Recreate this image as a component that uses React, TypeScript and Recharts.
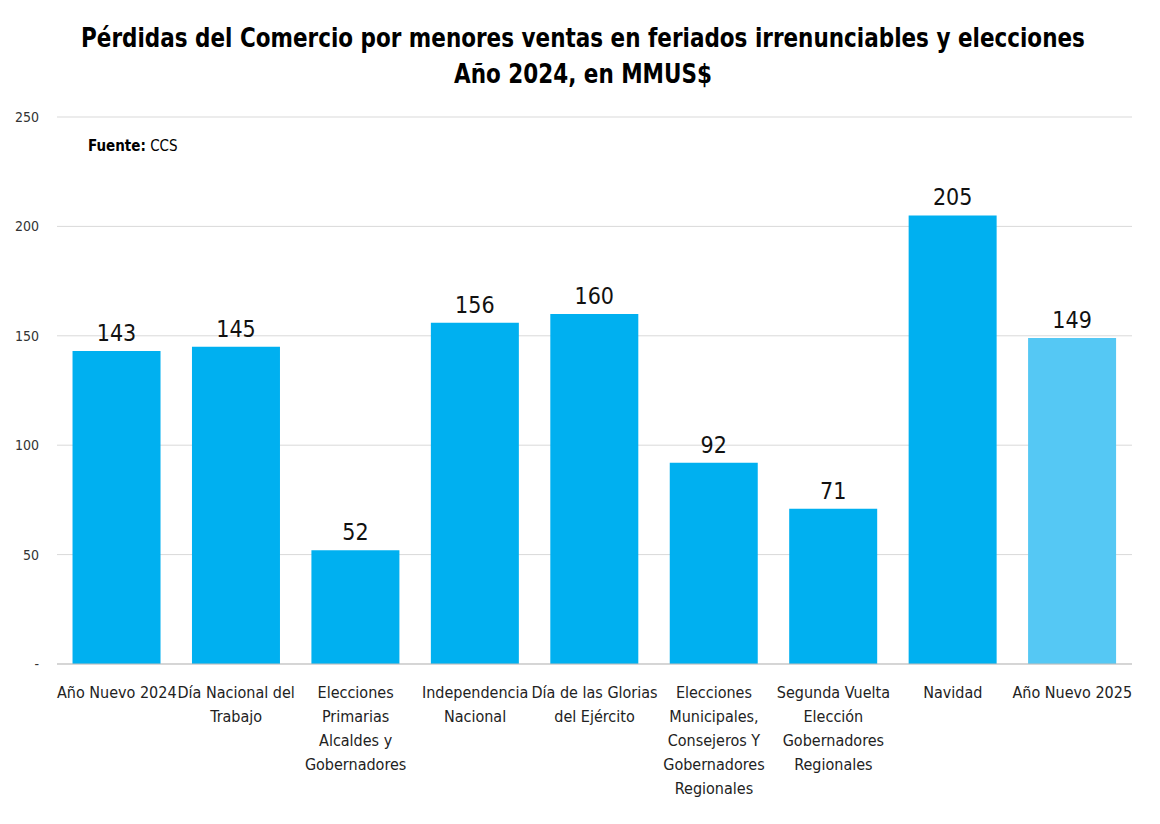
import React from "react";
import { BarChart, Bar, XAxis, YAxis, CartesianGrid, LabelList, Cell } from "recharts";

const categories = [
  "Año Nuevo 2024",
  "Día Nacional del\nTrabajo",
  "Elecciones\nPrimarias\nAlcaldes y\nGobernadores",
  "Independencia\nNacional",
  "Día de las Glorias\ndel Ejército",
  "Elecciones\nMunicipales,\nConsejeros Y\nGobernadores\nRegionales",
  "Segunda Vuelta\nElección\nGobernadores\nRegionales",
  "Navidad",
  "Año Nuevo 2025",
];
const values = [143, 145, 52, 156, 160, 92, 71, 205, 149];
const yTicks = [0, 50, 100, 150, 200, 250];

const data = categories.map((c, i) => ({ name: c, value: values[i] }));
const FONT = "'Liberation Sans Narrow', 'DejaVu Sans Condensed', 'Roboto', sans-serif";

const Tick = (props: any) => {
  const { x, y, payload } = props;
  const lines = String(payload.value).split("\n");
  return (
    <g transform={`translate(${x},${y})`}>
      {lines.map((l, i) => (
        <text key={i} x={0} y={26 + i * 24} textAnchor="middle" fontSize={16} fill="#222" fontFamily={FONT}>
          {l}
        </text>
      ))}
    </g>
  );
};

export default function App() {
  return (
    <div style={{ position: "absolute", left: 0, top: 0, width: 1160, height: 824, background: "#fff", fontFamily: FONT }}>
      <div style={{ position: "absolute", top: 20, left: 0, width: 1166, textAlign: "center", fontWeight: "bold", fontSize: 26, lineHeight: "36px", color: "#000", whiteSpace: "nowrap", transform: "scaleX(0.92)" }}>
        Pérdidas del Comercio por menores ventas en feriados irrenunciables y elecciones
        <br />
        Año 2024, en MMUS$
      </div>
      <div style={{ position: "absolute", top: 137, left: 88, fontSize: 15, color: "#000" }}>
        <b>Fuente:</b> CCS
      </div>
      <BarChart width={1160} height={824} data={data} margin={{ top: 117, right: 28, bottom: 130, left: 0 }} barCategoryGap="13%">
        <CartesianGrid vertical={false} stroke="#d9d9d9" />
        <XAxis dataKey="name" interval={0} tick={<Tick />} tickLine={false} axisLine={{ stroke: "#bfbfbf" }} height={30} />
        <YAxis
          width={57}
          domain={[0, 250]}
          ticks={yTicks}
          axisLine={false}
          tickLine={false}
          tickFormatter={(v: number) => (v === 0 ? "-" : String(v))}
          tick={{ fontSize: 14, fill: "#333", fontFamily: FONT, dx: -10 }}
        />
        <Bar dataKey="value" isAnimationActive={false}>
          {data.map((d, i) => (
            <Cell key={i} fill={i === data.length - 1 ? "#55C8F4" : "#00B0F0"} />
          ))}
          <LabelList dataKey="value" position="top" offset={10} style={{ fontSize: 23, fill: "#111", fontFamily: FONT }} />
        </Bar>
      </BarChart>
    </div>
  );
}
